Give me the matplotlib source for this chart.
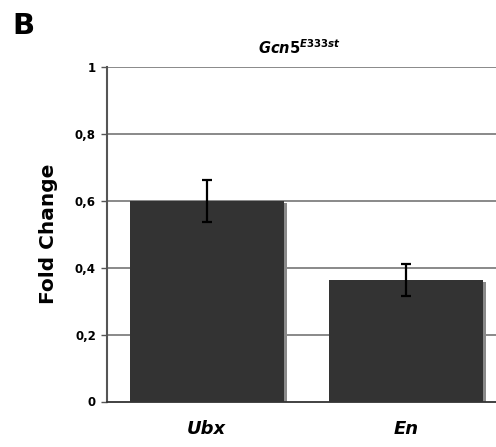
import matplotlib.pyplot as plt
import matplotlib.transforms as mtransforms

# data
genes = ['Ubx', 'En']
fold_change = [0.60, 0.362]
errors = [0.062, 0.048]
yticks = [0, 0.2, 0.4, 0.6, 0.8, 1]
ytick_labels = ['0', '0,2', '0,4', '0,6', '0,8', '1']

plt.rcParams['font.family'] = ['DejaVu Sans']
plt.rcParams['mathtext.fontset'] = 'custom'
plt.rcParams['mathtext.it'] = 'DejaVu Sans:italic:bold'
plt.rcParams['mathtext.rm'] = 'DejaVu Sans:bold'

fig = plt.figure(figsize=(4.96, 4.47), dpi=100)
ax = fig.add_axes([107 / 496, 45.5 / 447, 399 / 496, 334.5 / 447])

x = list(range(len(genes)))

# gridlines behind bars
for t in yticks[1:]:
    ax.axhline(t, color='#6a6a6a', lw=1.1, zorder=0)

# little shadow under each bar
shadow = mtransforms.offset_copy(ax.transData, fig=fig, x=2.2, y=-1.5, units='points')
ax.bar(x, fold_change, width=0.77, color='#8a8a8a', transform=shadow, zorder=1)
ax.bar(x, fold_change, width=0.77, color='#333333', zorder=2)
ax.errorbar(x, fold_change, yerr=errors, fmt='none', ecolor='black',
            elinewidth=1.6, capsize=3.8, capthick=1.6, zorder=3)

ax.set_xlim(-0.5, 1.5)
ax.set_ylim(0, 1)
ax.set_yticks(yticks)
ax.set_yticklabels(ytick_labels, fontsize=8.5, fontweight='bold')
ax.set_xticks(x)
ax.set_xticklabels(genes, fontsize=13, fontweight='bold', style='italic')
ax.tick_params(axis='x', length=0, pad=13)
ax.tick_params(axis='y', length=4, width=1, color='#555555', pad=4)

ax.spines['top'].set_visible(False)
ax.spines['right'].set_visible(False)
ax.spines['left'].set_color('#555555')
ax.spines['left'].set_linewidth(1.5)
ax.spines['bottom'].set_color('#333333')
ax.spines['bottom'].set_linewidth(1.3)

ax.set_ylabel('Fold Change', fontsize=14.5, fontweight='bold', labelpad=12)
fig.text(300 / 496, 1 - 48 / 447, r'$\mathit{Gcn5}^{\mathit{E333st}}$',
         ha='center', va='center', fontsize=10.5)
fig.text(12 / 496, 1 - 26 / 447, 'B', fontsize=21, fontweight='bold', va='center')

fig.savefig('out.png', dpi=100)
